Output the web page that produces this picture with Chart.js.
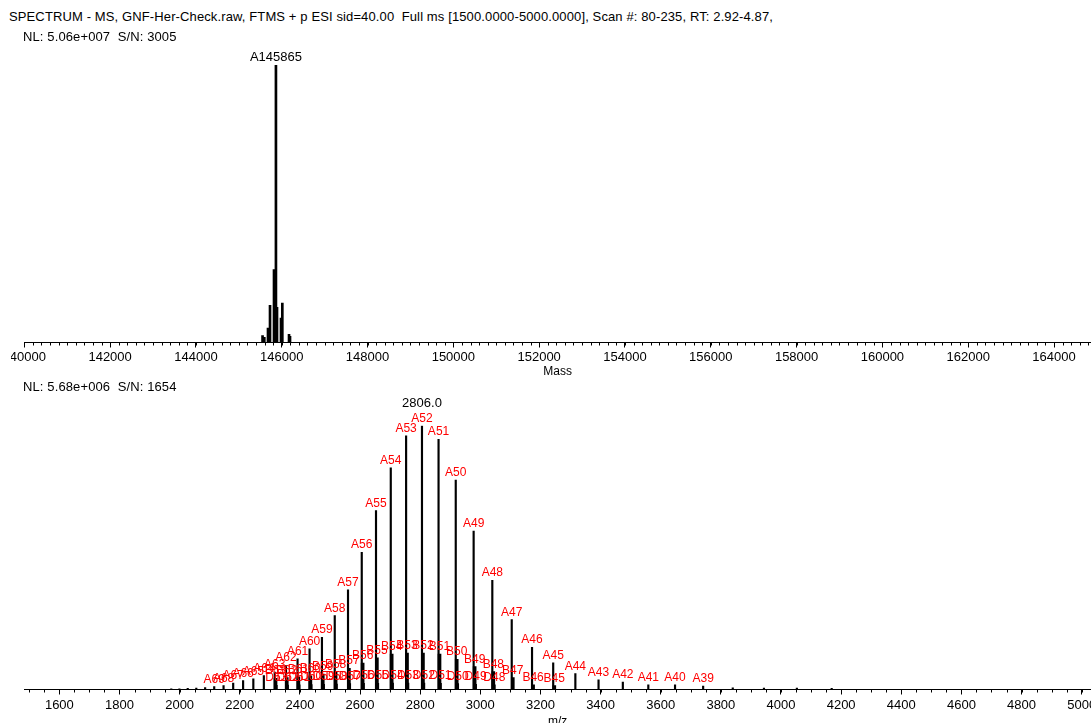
<!DOCTYPE html>
<html>
<head>
<meta charset="utf-8">
<script src="https://cdn.jsdelivr.net/npm/chart.js@4.4.0/dist/chart.umd.min.js"></script>
<style>
body { margin: 0; width: 1091px; height: 723px; overflow: hidden; background: #fff; position: relative; font-family: 'Liberation Sans', Arial, sans-serif; }
.hdr { position: absolute; font-size: 13px; line-height: 15px; color: #000; white-space: pre; z-index: 2; letter-spacing: 0.12px; }
canvas { position: absolute; }
</style>
</head>
<body>
<div class="hdr" style="left:9px;top:9px">SPECTRUM - MS, GNF-Her-Check.raw, FTMS + p ESI sid=40.00  Full ms [1500.0000-5000.0000], Scan #: 80-235, RT: 2.92-4.87,</div>
<div class="hdr" style="left:23px;top:29px">NL: 5.06e+007  S/N: 3005</div>
<canvas id="chart-mass" width="1080" height="340" style="left:11px;top:40px"></canvas>
<canvas id="chart-mz" width="1091" height="350" style="left:0px;top:380px"></canvas>
<div class="hdr" style="left:23px;top:379px">NL: 5.68e+006  S/N: 1654</div>
<script>
// deconvoluted spectrum (top panel)
const massValues = [145553, 145594, 145680, 145727, 145820, 145865, 145890, 145983, 146014, 146170, 146193];
const massIntensity = [2.5, 1.9, 5.2, 13.4, 26.3, 100, 12.7, 8.8, 14.2, 2.9, 2.2];
const massLabels = ['', '', '', '', '', 'A145865', '', '', '', '', ''];
const massTicks = [140000, 142000, 144000, 146000, 148000, 150000, 152000, 154000, 156000, 158000, 160000, 162000, 164000];

// m/z spectrum (bottom panel), A series
const chargeA = [35, 36, 37, 38, 39, 40, 41, 42, 43, 44, 45, 46, 47, 48, 49, 50, 51, 52, 53, 54,
	55, 56, 57, 58, 59, 60, 61, 62, 63, 64, 65, 66, 67, 68, 69, 70, 71, 72, 73, 74];
const mzA = [4168.6, 4052.8, 3943.3, 3839.6, 3741.1, 3647.6, 3558.7, 3474.0, 3393.2, 3316.1,
	3242.4, 3172.0, 3104.5, 3039.9, 2977.8, 2918.3, 2861.1, 2806.0, 2753.2, 2702.2,
	2653.1, 2605.7, 2560.0, 2515.9, 2473.3, 2432.1, 2392.2, 2353.7, 2316.3, 2280.1,
	2245.1, 2211.1, 2178.1, 2146.1, 2115.0, 2084.8, 2055.4, 2026.9, 1999.2, 1972.2];
const intA = [0.4, 0.5, 0.5, 0.6, 1.3, 1.8, 1.8, 2.8, 3.7, 6.0,
	10.1, 16.0, 26.5, 41.4, 60.1, 79.4, 94.8, 100, 96.2, 84.0,
	67.8, 52.0, 37.8, 28.0, 19.8, 15.4, 11.6, 9.1, 6.6, 5.3,
	4.0, 3.4, 2.4, 1.5, 1.1, 0.7, 0.5, 0.4, 0.3, 0.3];
const labelledA = [39, 69];

// B series
const chargeB = [45, 46, 47, 48, 49, 50, 51, 52, 53, 54, 55, 56, 57, 58, 59, 60, 61, 62, 63];
const mzB = [3246.0, 3175.5, 3108.0, 3043.2, 2981.1, 2921.5, 2864.3, 2809.2, 2756.2, 2705.2,
	2656.0, 2608.6, 2562.9, 2518.7, 2476.0, 2434.8, 2394.9, 2356.3, 2318.9];
const intB = [1.5, 1.8, 4.5, 6.8, 8.7, 11.4, 13.4, 13.8, 13.8, 13.4,
	12.0, 10.0, 8.0, 6.8, 5.8, 5.2, 4.8, 4.5, 4.2];

// D series
const chargeD = [48, 49, 50, 51, 52, 53, 54, 55, 56, 57, 58, 59, 60, 61, 62, 63];
const mzD = [3046.6, 2984.4, 2924.8, 2867.5, 2812.3, 2759.3, 2708.2, 2659.0, 2611.5, 2565.7,
	2521.5, 2478.8, 2437.5, 2397.5, 2358.9, 2321.5];
const intD = [1.8, 2.0, 2.2, 2.3, 2.4, 2.4, 2.4, 2.3, 2.3, 2.2, 2.1, 2.0, 1.9, 1.8, 1.7, 1.6];

const basePeakText = '2806.0';
const mzTicks = [1600, 1800, 2000, 2200, 2400, 2600, 2800, 3000, 3200, 3400, 3600, 3800,
	4000, 4200, 4400, 4600, 4800, 5000];

const FONT = "'Liberation Sans', Arial, sans-serif";

// text above sticks
const peakLabels = {
	id: 'peakLabels',
	afterDatasetsDraw(chart) {
		const ctx = chart.ctx;
		chart.data.datasets.forEach((ds, i) => {
			if (!ds.peakText) return;
			const meta = chart.getDatasetMeta(i);
			ctx.save();
			ctx.textAlign = 'center';
			ctx.textBaseline = 'alphabetic';
			meta.data.forEach((bar, j) => {
				const t = ds.peakText[j];
				if (!t) return;
				ctx.font = ds.peakFont;
				ctx.fillStyle = ds.peakColor;
				ctx.fillText(t, bar.x, bar.y - 4);
				if (ds.extraText && ds.extraText[j]) {
					ctx.font = '13px ' + FONT;
					ctx.fillStyle = '#000';
					ctx.fillText(ds.extraText[j], bar.x, bar.y - 19);
				}
			});
			ctx.restore();
		});
	}
};

// small ticks between the labelled ones
const minorTicks = {
	id: 'minorTicks',
	afterDraw(chart, args, opts) {
		const xs = chart.scales.x;
		const ctx = chart.ctx;
		ctx.save();
		ctx.strokeStyle = '#000';
		ctx.lineWidth = 1;
		ctx.beginPath();
		for (let v = opts.from; v <= opts.to + 1e-6; v += opts.step) {
			const px = Math.round(xs.getPixelForValue(v)) + 0.5;
			ctx.moveTo(px, xs.top);
			ctx.lineTo(px, xs.top + opts.len);
		}
		ctx.stroke();
		ctx.restore();
	}
};

function xAxis(min, max, ticks, title, axisHeight, labelPad) {
	return {
		type: 'linear',
		min, max,
		offset: false,
		afterBuildTicks: s => { s.ticks = ticks.map(v => ({ value: v })); },
		afterFit: s => { s.paddingLeft = 0; s.paddingRight = 0; s.height = axisHeight; },
		border: { display: true, color: '#000', width: 1 },
		grid: { display: true, drawOnChartArea: false, drawTicks: true, offset: false, tickLength: 5, color: '#000' },
		ticks: {
			autoSkip: false, maxRotation: 0, minRotation: 0, padding: labelPad,
			color: '#000', font: { family: FONT, size: 13 },
			callback: v => String(v)
		},
		title: { display: true, text: title, color: '#000', font: { family: FONT, size: 12 }, padding: { top: 0, bottom: 1 } }
	};
}

const yHidden = { display: false, min: 0, max: 100 };

new Chart(document.getElementById('chart-mass'), {
	type: 'bar',
	data: {
		datasets: [{
			data: massValues.map((m, i) => ({ x: m, y: massIntensity[i] })),
			backgroundColor: '#000',
			barThickness: 2,
			grouped: false,
			peakText: massLabels,
			peakFont: '13px ' + FONT,
			peakColor: '#000'
		}]
	},
	options: {
		responsive: false,
		animation: false,
		layout: { padding: { top: 25, left: 13.3, right: 0, bottom: 0 } },
		plugins: {
			legend: { display: false },
			tooltip: { enabled: false },
			minorTicks: { from: 140000, to: 164800, step: 200, len: 3 }
		},
		scales: {
			x: xAxis(140000, 164862, massTicks, 'Mass', 37.5, 2),
			y: yHidden
		}
	},
	plugins: [peakLabels, minorTicks]
});

const labelA = chargeA.map(z => (z >= labelledA[0] && z <= labelledA[1]) ? 'A' + z : '');
const extraA = chargeA.map(z => z === 52 ? basePeakText : '');

new Chart(document.getElementById('chart-mz'), {
	type: 'bar',
	data: {
		datasets: [
			{
				data: mzD.map((m, i) => ({ x: m, y: intD[i] })),
				backgroundColor: '#000',
				barThickness: 2,
				grouped: false,
				peakText: chargeD.map(z => 'D' + z),
				peakFont: '12px ' + FONT,
				peakColor: '#ff0000'
			},
			{
				data: mzB.map((m, i) => ({ x: m, y: intB[i] })),
				backgroundColor: '#000',
				barThickness: 3,
				grouped: false,
				peakText: chargeB.map(z => 'B' + z),
				peakFont: '12px ' + FONT,
				peakColor: '#ff0000'
			},
			{
				data: mzA.map((m, i) => ({ x: m, y: intA[i] })),
				backgroundColor: '#000',
				barThickness: 1.5,
				grouped: false,
				peakText: labelA,
				extraText: extraA,
				peakFont: '12px ' + FONT,
				peakColor: '#ff0000'
			}
		]
	},
	options: {
		responsive: false,
		animation: false,
		layout: { padding: { top: 45.7, left: 24.3, right: 0, bottom: 0 } },
		plugins: {
			legend: { display: false },
			tooltip: { enabled: false },
			minorTicks: { from: 1500, to: 5000, step: 50, len: 3 }
		},
		scales: {
			x: xAxis(1483.4, 5031, mzTicks, 'm/z', 40.5, 3),
			y: yHidden
		}
	},
	plugins: [peakLabels, minorTicks]
});
</script>
</body>
</html>
